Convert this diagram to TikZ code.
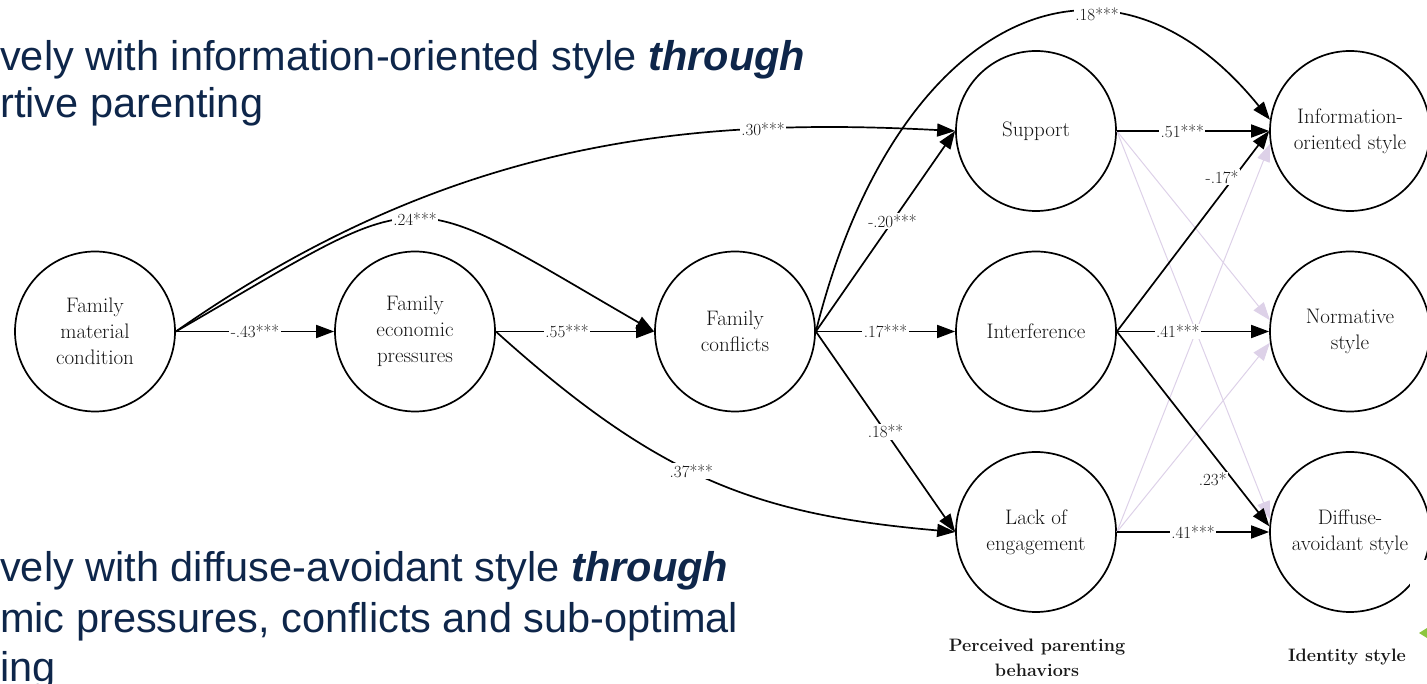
\documentclass[tikz,border=0pt]{standalone}
\usepackage{fontspec}
\newfontfamily\slidefont{Liberation Sans}
\usepackage{tikz}
\usetikzlibrary{positioning,arrows.meta}

\definecolor{slidenavy}{RGB}{14,38,74}
\definecolor{nodegray}{RGB}{20,20,20}
\definecolor{lav}{RGB}{221,209,232}
\definecolor{slidegreen}{RGB}{141,198,63}

\tikzset{
	latent/.style={circle, draw, line width=1.7pt, minimum size=160pt, inner sep=0pt,
		align=center, text=nodegray, font=\fontsize{21}{26}\selectfont},
	coef/.style={fill=white, inner sep=1.5pt, text=nodegray, font=\fontsize{17}{17}\selectfont},
	nonsig/.style={color=lav, line width=1pt},
	slideline/.style={anchor=base west, inner sep=0pt, text=slidenavy,
		font=\slidefont\fontsize{41.5}{48}\selectfont},
	grouplabel/.style={anchor=north, inner sep=0pt, align=center, text=black!90,
		font=\bfseries\fontsize{18}{25}\selectfont}
}

\begin{document}
\begin{tikzpicture}[x=1pt, y=1pt, on grid, >={Triangle[length=18pt,width=13pt]}]
		\useasboundingbox (0,0) rectangle (1427,683);

		% slide text behind the model
		\node[slideline] (t1) at (0,612) {vely with information-oriented style \textbf{\textit{through}}};
		\node[slideline] (t2) at (0,565) {rtive parenting};
		\node[slideline] (b1) at (0,101) {vely with diffuse-avoidant style \textbf{\textit{through}}};
		\node[slideline] (b2) at (0,51) {mic pressures, conflicts and sub-optimal};
		\node[slideline] (b3) at (0,2) {ing};

		% latent variables
		\node[latent] (fmc) at (95,351.5) {Family\\material\\condition};
		\node[latent, right=320pt of fmc] (fep) {Family\\economic\\pressures};
		\node[latent, right=320pt of fep] (fc) {Family\\conflicts};
		\node[latent, right=301pt of fc] (intf) {Interference};
		\node[latent, above=200.5pt of intf] (sup) {Support};
		\node[latent, below=200.5pt of intf] (lack) {Lack of\\engagement};
		\node[latent, right=314pt of intf] (norm) {Normative\\style};
		\node[latent, above=200.5pt of norm] (info) {Information-\\oriented style};
		\node[latent, below=200.5pt of norm] (diff) {Diffuse-\\avoidant style};

		% non-significant paths
		\path[->, nonsig]
		(sup.east) edge (norm.172)
		(sup.east) edge (diff.171)
		(lack.east) edge (info.189)
		(lack.east) edge (norm.188);

		\path[->, line width=1.7pt]
		(fmc) edge node[coef] {-.43***} (fep)
		(fep) edge node[coef, pos=.45] {.55***} (fc)
		(fmc.east) edge[out=30, in=150, out distance=300pt, in distance=300pt] node[coef] {.24***} (fc.west)
		(fmc.east) edge[out=35, in=177, out distance=340pt, in distance=260pt] node[coef, pos=.75] {.30***} (sup.west)
		(fep.east) edge[out=-42, in=175, out distance=220pt, in distance=200pt] node[coef, pos=.45] {.37***} (lack.west)
		(fc.east) edge node[coef, pos=.55] {-.20***} (sup.west)
		(fc.east) edge node[coef] {.17***} (intf)
		(fc.east) edge node[coef] {.18**} (lack.west)
		(fc.east) edge[out=76, in=129, out distance=320pt, in distance=265pt] node[coef, pos=.67] {.18***} (info.172)
		(sup) edge node[coef, pos=.43] {.51***} (info)
		(intf.east) edge node[coef, pos=.77, xshift=-12pt] {-.17*} (info.west)
		(intf) edge node[coef, pos=.4] {.41***} (norm)
		(intf.east) edge node[coef, pos=.76, xshift=-20pt] {.23*} (diff.176)
		(lack) edge node[coef] {.41***} (diff);

		\node[grouplabel] (ppb) at (1037,44) {Perceived parenting\\behaviors};
		\node[grouplabel] (ids) at (1347,34) {Identity style};

		% slide edge at the right
		\fill[white] (1410,0) rectangle (1427,123);
		\fill[slidegreen] (1419,50) -- (1427,55) -- (1427,45) -- cycle;
	\end{tikzpicture}
\end{document}
